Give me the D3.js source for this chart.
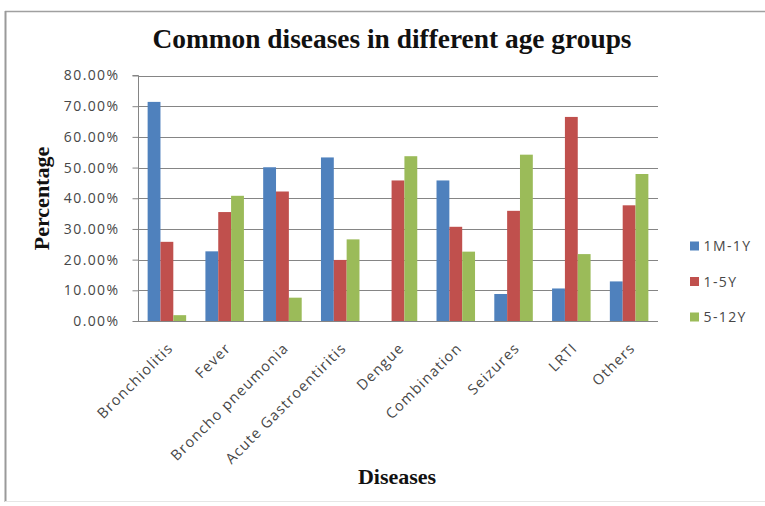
<!DOCTYPE html>
<html>
<head>
<meta charset="utf-8">
<script src="https://cdn.jsdelivr.net/npm/d3@7"></script>
<style>
  html, body { margin: 0; padding: 0; background: #fff; }
  svg { display: block; }
</style>
</head>
<body>
<svg id="chart" width="765" height="506"></svg>
<script>
// Disease categories along the x axis
const categories = ["Bronchiolitis", "Fever", "Broncho pneumonia", "Acute Gastroentiritis",
  "Dengue", "Combination", "Seizures", "LRTI", "Others"];

// Age-group series names
const seriesNames = ["1M-1Y", "1-5Y", "5-12Y"];

// Percentage of cases per disease for each age group
const infant = [71.4, 22.7, 50.1, 53.3, 0, 45.8, 8.8, 10.6, 12.9];
const toddler = [25.8, 35.5, 42.2, 19.9, 45.8, 30.7, 35.9, 66.5, 37.7];
const child = [1.9, 40.8, 7.6, 26.6, 53.7, 22.6, 54.2, 21.8, 47.9];

// Y axis ticks (percent)
const yTicks = [0, 10, 20, 30, 40, 50, 60, 70, 80];

const seriesValues = [infant, toddler, child];
const colors = ["#4F81BD", "#C0504D", "#9BBB59"];
const labelColor = "#474747";
const labelFont = "'Open Sans', sans-serif";

const svg = d3.select("#chart");

// Outer chart frame: strong top and left edges, faint bottom edge
const frame = svg.append("g");
frame.append("line")
  .attr("x1", 5).attr("x2", 765).attr("y1", 11.5).attr("y2", 11.5)
  .attr("stroke", "#a0a0a0").attr("stroke-width", 1.5);
frame.append("line")
  .attr("x1", 5.5).attr("x2", 5.5).attr("y1", 11).attr("y2", 502)
  .attr("stroke", "#9a9a9a").attr("stroke-width", 2);
frame.append("line")
  .attr("x1", 5).attr("x2", 765).attr("y1", 501.5).attr("y2", 501.5)
  .attr("stroke", "#e6e6e6").attr("stroke-width", 1);

const plot = { left: 138, right: 658, top: 75.5, bottom: 321 };

const x0 = d3.scaleBand()
  .domain(categories)
  .range([plot.left, plot.right])
  .paddingInner(1 / 3)
  .paddingOuter(1 / 6);

const x1 = d3.scaleBand()
  .domain(seriesNames)
  .range([0, x0.bandwidth()]);

const y = d3.scaleLinear()
  .domain([0, 80])
  .range([plot.bottom, plot.top]);

// Horizontal gridlines
svg.append("g")
  .selectAll("line")
  .data(yTicks.filter(t => t > 0))
  .join("line")
  .attr("x1", plot.left).attr("x2", plot.right)
  .attr("y1", d => Math.round(y(d)) + 0.5)
  .attr("y2", d => Math.round(y(d)) + 0.5)
  .attr("stroke", "#858585")
  .attr("stroke-width", 1);

// Bars
const rows = categories.map((c, i) => ({
  category: c,
  values: seriesNames.map((s, j) => ({ series: s, value: seriesValues[j][i], color: colors[j] }))
}));

svg.append("g")
  .selectAll("g")
  .data(rows)
  .join("g")
  .attr("transform", d => `translate(${x0(d.category)},0)`)
  .selectAll("rect")
  .data(d => d.values)
  .join("rect")
  .attr("x", d => x1(d.series))
  .attr("width", x1.bandwidth())
  .attr("y", d => y(d.value))
  .attr("height", d => y(0) - y(d.value))
  .attr("fill", d => d.color);

// Y axis
const yAxis = d3.axisLeft(y)
  .tickValues(yTicks)
  .tickSize(6)
  .tickPadding(13)
  .tickFormat(d => d.toFixed(2) + "%");

const yAxisG = svg.append("g")
  .attr("transform", `translate(${plot.left + 0.5},0)`)
  .call(yAxis);
yAxisG.select(".domain").attr("stroke", "#858585").attr("d", `M-6,${y(80)}H0V${y(0)}`);
yAxisG.selectAll(".tick line").attr("stroke", "#858585");
yAxisG.selectAll(".tick text")
  .attr("fill", labelColor)
  .style("font-family", labelFont)
  .style("font-size", "14px")
  .style("letter-spacing", "1.4px");

// X axis baseline
svg.append("line")
  .attr("x1", plot.left).attr("x2", plot.right)
  .attr("y1", Math.round(y(0)) + 0.5).attr("y2", Math.round(y(0)) + 0.5)
  .attr("stroke", "#858585");

// Rotated category labels
svg.append("g")
  .selectAll("text")
  .data(categories)
  .join("text")
  .attr("transform", d => `translate(${x0(d) + x0.bandwidth() / 2 + 7},${plot.bottom + 28}) rotate(-45)`)
  .attr("text-anchor", "end")
  .attr("fill", labelColor)
  .style("font-family", labelFont)
  .style("font-size", "14.5px")
  .style("letter-spacing", "1.2px")
  .text(d => d);

// Title
svg.append("text")
  .attr("x", 392).attr("y", 48)
  .attr("text-anchor", "middle")
  .style("font-family", "'Liberation Serif', 'Times New Roman', serif")
  .style("font-weight", "bold")
  .style("font-size", "27.4px")
  .attr("fill", "#111")
  .text("Common diseases in different age groups");

// Axis titles
svg.append("text")
  .attr("transform", `translate(49,198.5) rotate(-90)`)
  .attr("text-anchor", "middle")
  .style("font-family", "'Liberation Serif', 'Times New Roman', serif")
  .style("font-weight", "bold")
  .style("font-size", "22px")
  .attr("fill", "#111")
  .text("Percentage");

svg.append("text")
  .attr("x", 397).attr("y", 484)
  .attr("text-anchor", "middle")
  .style("font-family", "'Liberation Serif', 'Times New Roman', serif")
  .style("font-weight", "bold")
  .style("font-size", "22px")
  .attr("fill", "#111")
  .text("Diseases");

// Legend
const legend = svg.append("g")
  .selectAll("g")
  .data(seriesNames)
  .join("g")
  .attr("transform", (d, i) => `translate(690,${246 + i * 35.5})`);

legend.append("rect")
  .attr("x", 0).attr("y", -4.5)
  .attr("width", 9).attr("height", 9)
  .attr("fill", (d, i) => colors[i]);

legend.append("text")
  .attr("x", 13.5).attr("y", 0)
  .attr("dy", "0.36em")
  .attr("fill", labelColor)
  .style("font-family", labelFont)
  .style("font-size", "14px")
  .style("letter-spacing", "1.4px")
  .text(d => d);
</script>
</body>
</html>
